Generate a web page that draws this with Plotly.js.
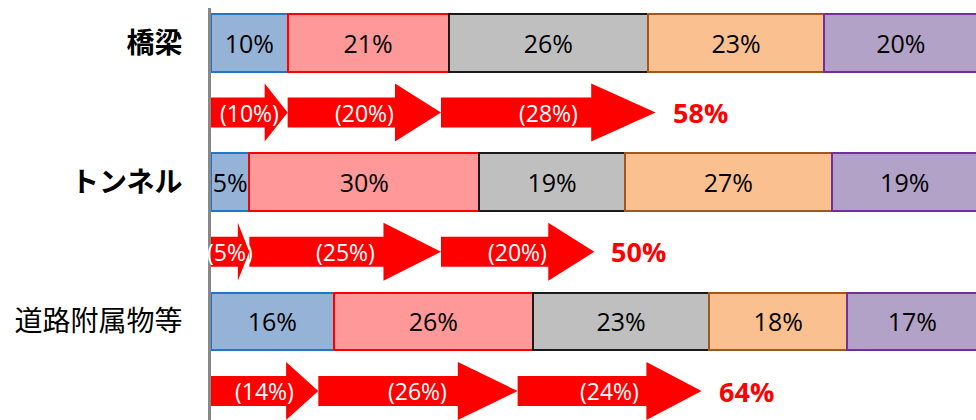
<!DOCTYPE html>
<html>
<head>
<meta charset="utf-8">
<script src="https://cdn.plot.ly/plotly-3.0.1.min.js"></script>
<style>html,body{margin:0;padding:0;background:#fff;}#chart{width:976px;height:420px;}</style>
</head>
<body>
<div id="chart"></div>
<script>
// ---- data ----
var categories = ['橋梁', 'トンネル', '道路附属物等'];
var categoryBold = [true, true, false];
var seg1 = [10, 5, 16];
var seg2 = [21, 30, 26];
var seg3 = [26, 19, 23];
var seg4 = [23, 27, 18];
var seg5 = [20, 19, 17];
var arrow1 = [10, 5, 14];
var arrow2 = [20, 25, 26];
var arrow3 = [28, 20, 24];
var arrowTotals = [58, 50, 64];

// ---- styles ----
var segFill = ['#95B3D7', '#FF9999', '#BFBFBF', '#FAC090', '#B3A2C7'];
var segLine = ['#1F77C8', '#FF0000', '#1A1A1A', '#A0581C', '#7030A0'];
var segs = [seg1, seg2, seg3, seg4, seg5];
var barY = categories.map(function (c, i) { return 2 * i; });
var arrowY = categories.map(function (c, i) { return 2 * i + 1; });
var FONT = '"Open Sans", "Noto Sans", sans-serif';

var traces = [];
segs.forEach(function (s, k) {
  traces.push({
    type: 'bar', orientation: 'h',
    x: s, y: barY, width: 0.83,
    marker: { color: segFill[k], line: { color: segLine[k], width: 2 } },
    text: s.map(function (v) { return v + '%'; }),
    textposition: 'inside', insidetextanchor: 'middle',
    constraintext: 'none', textangle: 0,
    textfont: { color: '#000', size: 25, family: FONT },
    hoverinfo: 'skip', showlegend: false
  });
});

var annotations = [];
var arrowsets = [arrow1, arrow2, arrow3];
categories.forEach(function (c, r) {
  var start = 0;
  var yc = arrowY[r];
  var hb = 0.215, hh = 0.416;
  arrowsets.forEach(function (set) {
    var v = set[r];
    var x0 = start, x1 = start + v;
    var head = 0.3 * v;
    traces.push({
      type: 'scatter', mode: 'lines', fill: 'toself',
      fillcolor: '#FF0000', line: { width: 0, color: '#FF0000' },
      x: [x0, x1 - head, x1 - head, x1, x1 - head, x1 - head, x0, x0],
      y: [yc - hb, yc - hb, yc - hh, yc, yc + hh, yc + hb, yc + hb, yc - hb],
      hoverinfo: 'skip', showlegend: false
    });
    annotations.push({
      x: (x0 + x1) / 2, y: yc, xref: 'x', yref: 'y',
      text: '(' + v + '%)', showarrow: false,
      font: { color: '#FFFFFF', size: 23, family: FONT },
      xanchor: 'center', yanchor: 'middle'
    });
    start = x1;
  });
  annotations.push({
    x: start, y: yc, xref: 'x', yref: 'y', xshift: 15,
    text: '<b>' + arrowTotals[r] + '%</b>', showarrow: false,
    font: { color: '#FF0000', size: 27, family: FONT },
    xanchor: 'left', yanchor: 'middle'
  });
});

var layout = {
  width: 976, height: 420,
  margin: { l: 211, r: 0, t: 8, b: 0, pad: 0 },
  paper_bgcolor: '#fff', plot_bgcolor: '#fff',
  barmode: 'stack', showlegend: false,
  xaxis: { range: [0, 99.8], visible: false, fixedrange: true },
  yaxis: {
    range: [5.416, -0.502], showgrid: false, zeroline: false,
    showline: true, linecolor: '#888888', linewidth: 3,
    ticks: '', tickvals: barY,
    ticktext: categories.map(function (c, i) { return categoryBold[i] ? '<b>' + c + '</b>' : c; }),
    tickfont: { size: 28, color: '#000', family: '"Noto Sans CJK JP", sans-serif' },
    ticklabelstandoff: 20, fixedrange: true
  },
  annotations: annotations
};

Plotly.newPlot('chart', traces, layout, { displayModeBar: false, staticPlot: true });
</script>
</body>
</html>
